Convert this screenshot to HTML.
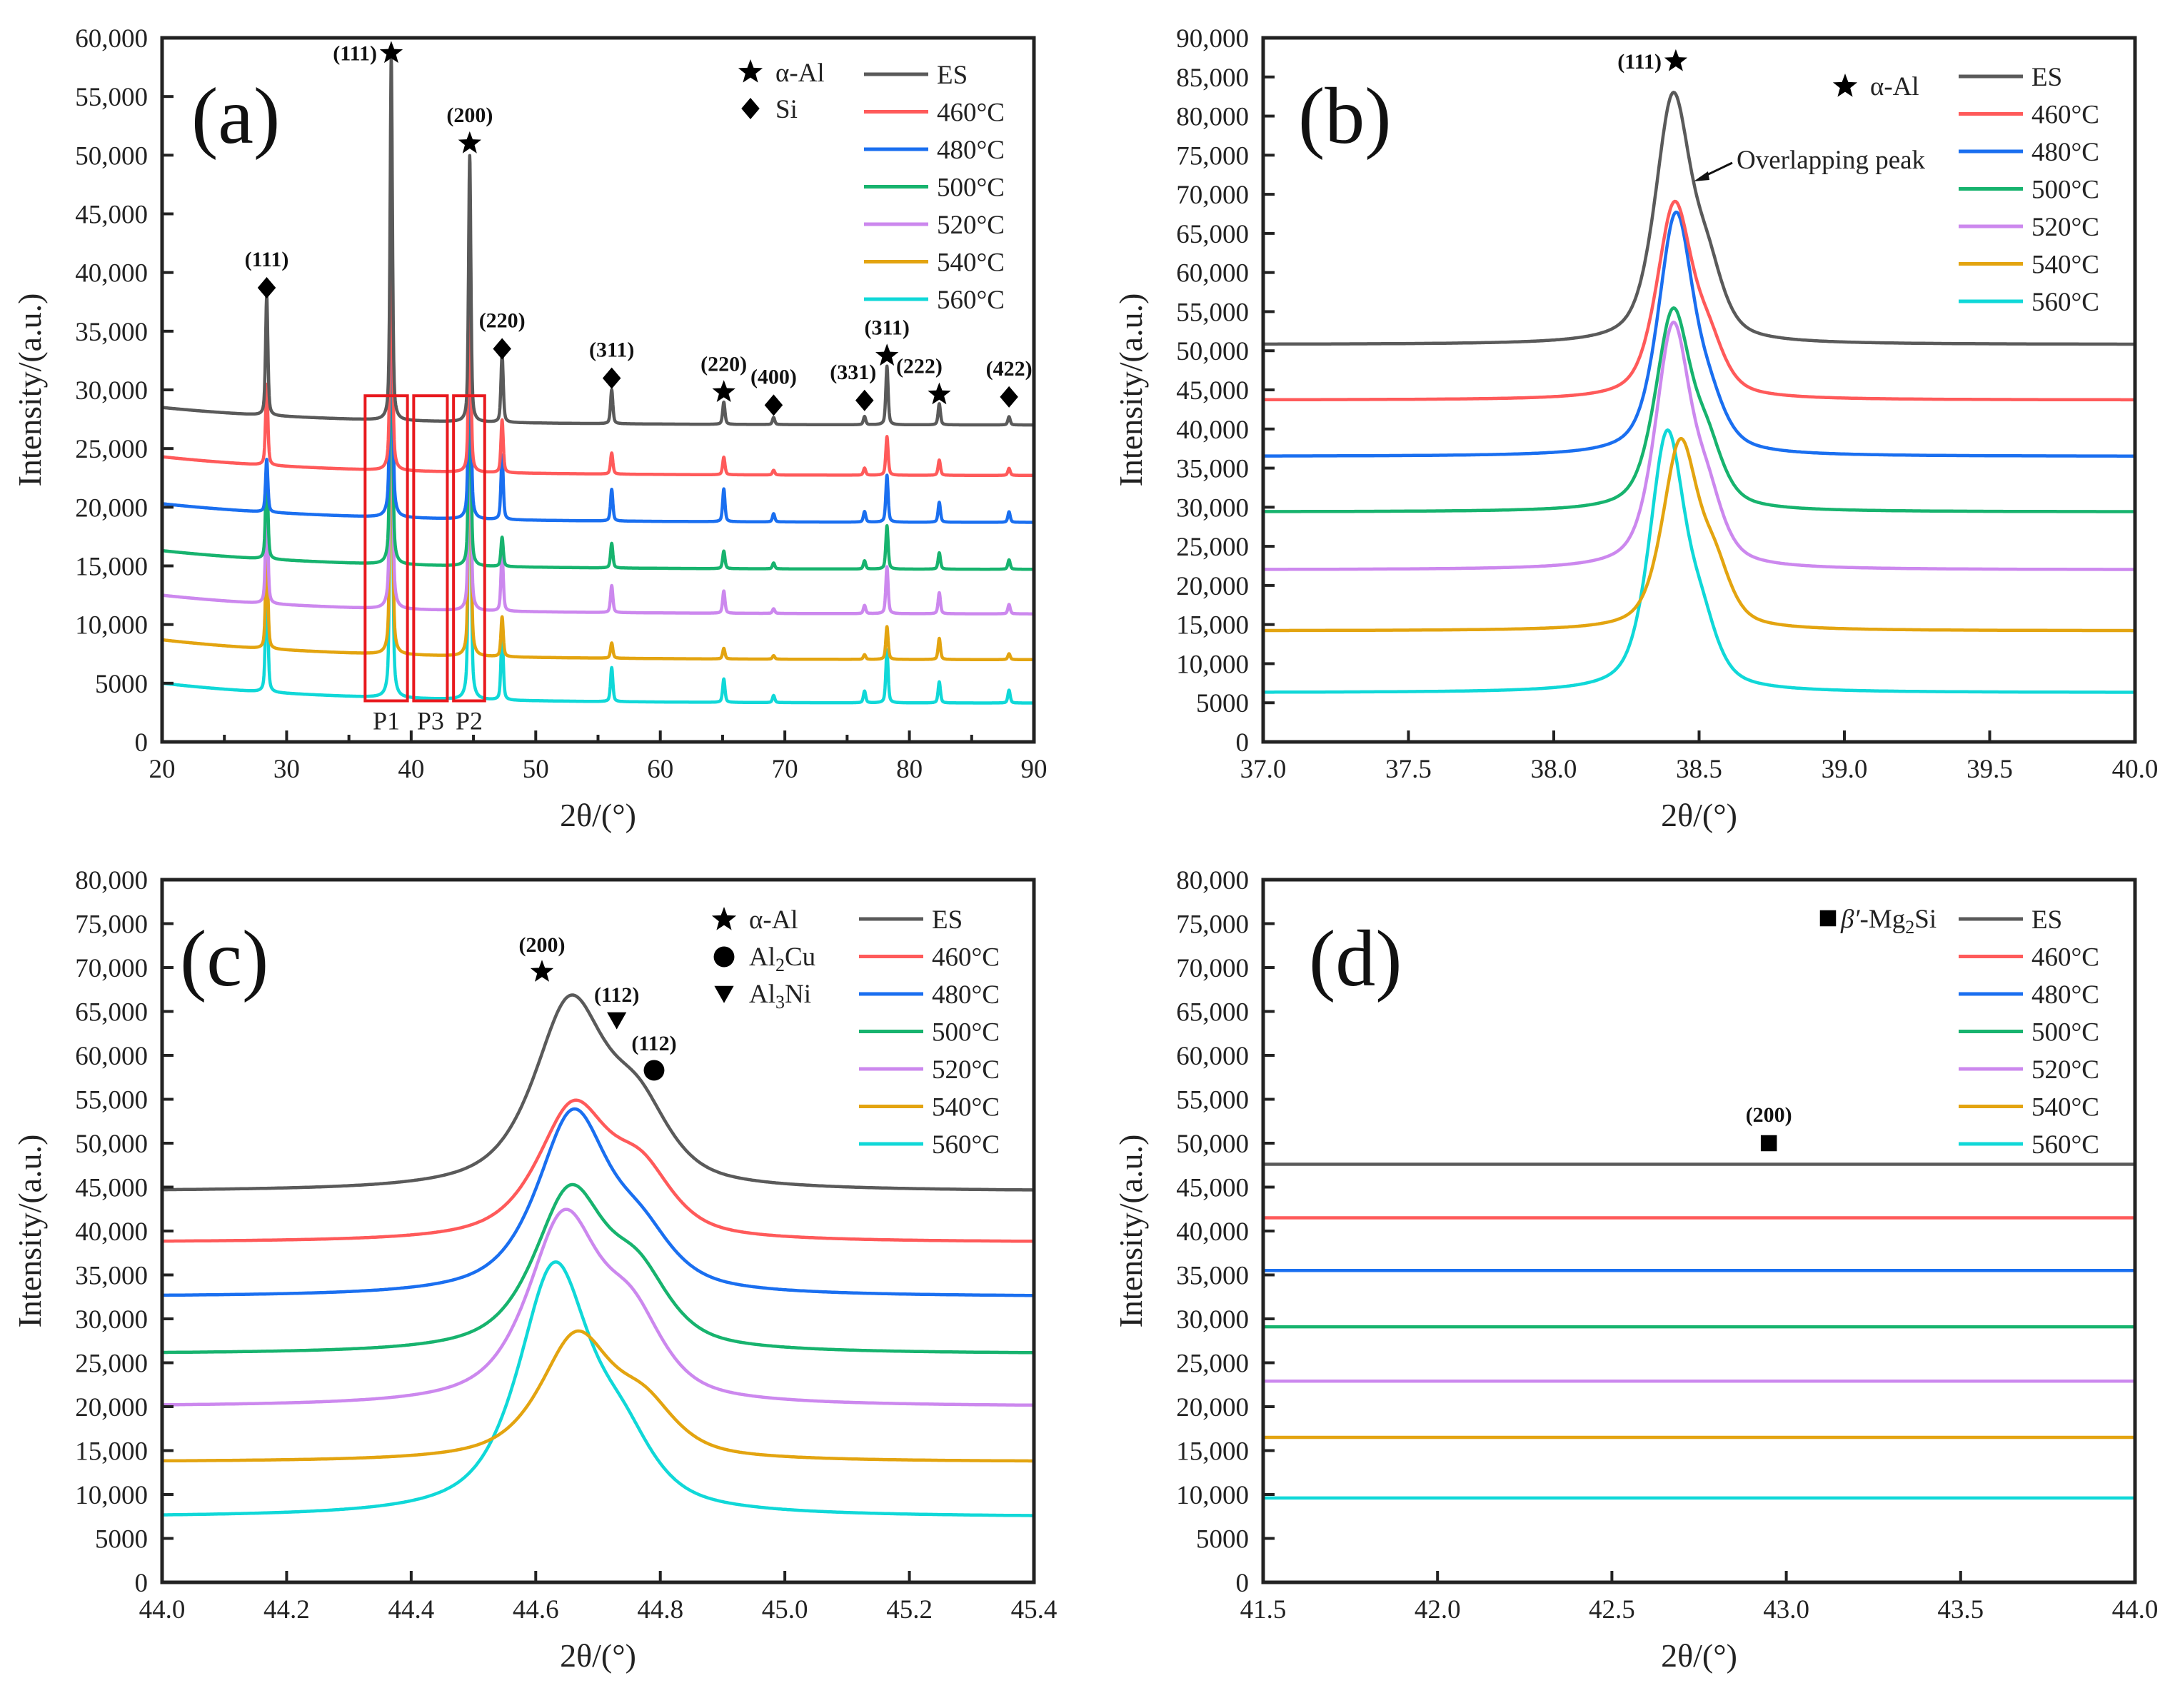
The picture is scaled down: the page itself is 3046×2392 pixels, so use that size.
<!DOCTYPE html>
<html><head><meta charset="utf-8">
<style>
html,body{margin:0;padding:0;background:#fff;}
svg{display:block;font-family:"Liberation Serif",serif;}
</style></head>
<body>
<svg id="fig" xmlns="http://www.w3.org/2000/svg" width="3046" height="2392" viewBox="0 0 3046 2392">
<rect x="0" y="0" width="3046" height="2392" fill="#fff"/>
</svg>
<script>
// ---------- shared data ----------
const seriesNames = ["ES","460°C","480°C","500°C","520°C","540°C","560°C"];
const seriesColors = ["#5a5a5a","#ff5a5a","#1a6ff0","#17b36e","#cc88ee","#e3a410","#10d8d8"];

// ---------- panel (a) ----------
const aPeakPos = [28.4,38.4,44.7,47.3,56.1,65.1,69.1,76.4,78.2,82.4,88.0];
const aBase20 = [28500,24300,20300,16300,12500,8700,5000];
const aBase90 = [27000,22700,18700,14700,10900,7000,3300];
const aAmp = [
 [10200,31000,22700,5800,2900,1900,600,700,5000,1800,700],
 [6900,25000,17000,4500,1800,1500,400,600,3300,1300,600],
 [4500,32000,22500,5500,2700,2800,700,900,4000,1700,900],
 [8000,30000,20000,2500,2100,1500,500,700,3700,1400,800],
 [9500,33000,23000,5000,2300,1900,400,700,4000,1800,800],
 [9000,32000,27000,3400,1300,900,300,400,2800,1800,500],
 [11000,37000,33000,5800,2900,2000,600,1000,4500,1800,1100]
];
const aYTicks = [0,5000,10000,15000,20000,25000,30000,35000,40000,45000,50000,55000,60000];
const aXTicks = [20,30,40,50,60,70,80,90];
const aMarkType = ["d","s","s","d","d","s","d","d","s","s","d"];
const aMarkLabel = ["(111)","(111)","(200)","(220)","(311)","(220)","(400)","(331)","(311)","(222)","(422)"];
const aMarkX = [28.4,38.4,44.7,47.3,56.1,65.1,69.1,76.4,78.2,82.4,88.0];
const aMarkY = [38700,58700,51000,33500,31000,29800,28700,29100,32900,29600,29400];
const aBoxX0 = [36.3,40.2,43.4];
const aBoxX1 = [39.7,42.9,45.9];
const aBoxLabels = ["P1","P3","P2"];
const aBoxY0 = 3500, aBoxY1 = 29500;

// ---------- panel (b) ----------
const bBase = [50800,43700,36500,29400,22000,14200,6300];
const bC1 = [38.41,38.415,38.42,38.41,38.41,38.435,38.39];
const bA1 = [31000,24500,30500,25000,30500,23500,32500];
const bA2 = [7500,5500,4500,6500,7000,6500,6500];
const bYTicks = [0,5000,10000,15000,20000,25000,30000,35000,40000,45000,50000,55000,60000,65000,70000,75000,80000,85000,90000];
const bXTicks = [37.0,37.5,38.0,38.5,39.0,39.5,40.0];

// ---------- panel (c) ----------
const cBase = [44500,38700,32500,26000,20000,13700,7400];
const cC1 = [44.655,44.66,44.66,44.655,44.645,44.665,44.63];
const cA1 = [21000,15000,20500,18000,21000,14000,28000];
const cA2 = [7500,6500,5000,7000,8000,5000,6000];
const cYTicks = [0,5000,10000,15000,20000,25000,30000,35000,40000,45000,50000,55000,60000,65000,70000,75000,80000];
const cXTicks = [44.0,44.2,44.4,44.6,44.8,45.0,45.2,45.4];

// ---------- panel (d) ----------
const dBase = [47600,41500,35500,29100,22900,16500,9600];
const dYTicks = cYTicks;
const dXTicks = [41.5,42.0,42.5,43.0,43.5,44.0];

const NS = "http://www.w3.org/2000/svg";
const svg = document.getElementById("fig");
function mk(tag, attrs, parent){
  const e = document.createElementNS(NS, tag);
  for (const k in attrs) e.setAttribute(k, attrs[k]);
  (parent||svg).appendChild(e);
  return e;
}
function fmt(v){ return v>=10000 ? v.toLocaleString("en-US") : String(v); }
function pv(dx, w, eta){
  const L = 1/(1+Math.pow(2*dx/w,2));
  const G = Math.exp(-4*Math.LN2*dx*dx/(w*w));
  return eta*L+(1-eta)*G;
}
function makeAxis(P){
  const sx = v => P.x0 + (v-P.xmin)/(P.xmax-P.xmin)*(P.x1-P.x0);
  const sy = v => P.y1 - (v-P.ymin)/(P.ymax-P.ymin)*(P.y1-P.y0);
  return {sx, sy};
}
function drawFrame(P, g, ax, yTicks, xTicks, xDec, minor){
  yTicks.forEach(t=>{
    const y = ax.sy(t);
    const tk = mk("line",{x1:P.x0,x2:P.x0+16,y1:y,y2:y,stroke:"#222","stroke-width":4},g);
    
    
    const lb = mk("text",{x:P.x0-20,y:y+13,"text-anchor":"end","font-size":37,fill:"#222"},g);
    
    
    lb.textContent = fmt(t);
  });
  xTicks.forEach(t=>{
    const x = ax.sx(t);
    const tk = mk("line",{x1:x,x2:x,y1:P.y1,y2:P.y1-16,stroke:"#222","stroke-width":4},g);
    
    
    const lb = mk("text",{x:x,y:P.y1+50,"text-anchor":"middle","font-size":37,fill:"#222"},g);
    
    
    lb.textContent = t.toFixed(xDec);
  });
  (minor||[]).forEach(t=>{
    const x = ax.sx(t);
    const tk = mk("line",{x1:x,x2:x,y1:P.y1,y2:P.y1-10,stroke:"#222","stroke-width":4},g);
    
    
  });
  const fr = mk("rect",{x:P.x0,y:P.y0,width:P.x1-P.x0,height:P.y1-P.y0,fill:"none",stroke:"#222","stroke-width":5},g);
  
  
  const xt = mk("text",{x:(P.x0+P.x1)/2,y:P.y1+118,"text-anchor":"middle","font-size":46,fill:"#222"},g);
  
  
  xt.textContent = "2θ/(°)";
  const yx = P.x0-170, yy=(P.y0+P.y1)/2;
  const yt = mk("text",{x:yx,y:yy,"text-anchor":"middle","font-size":46,fill:"#222",transform:`rotate(-90 ${yx} ${yy})`},g);
  
  
  yt.textContent = "Intensity/(a.u.)";
  const pl = mk("text",{x:P.lx,y:P.ly,"font-size":112,fill:"#111"},g);
  
  
  pl.textContent = P.label;
}
function drawLegend(g, x0, y0){
  seriesNames.forEach((n,i)=>{
    const y = y0 + i*52.5;
    const ln = mk("line",{x1:x0,x2:x0+90,y1:y,y2:y,stroke:seriesColors[i],"stroke-width":5},g);
    
    
    const t = mk("text",{x:x0+102,y:y+13,"font-size":37,fill:"#222"},g);
    
    
    t.textContent = n;
  });
}
function marker(g, type, x, y, s){
  let e;
  if (type==="s"){
    let pts=[];
    for(let k=0;k<10;k++){const r=k%2?s*0.42:s; const a=-Math.PI/2+k*Math.PI/5; pts.push((x+r*Math.cos(a)).toFixed(1)+","+(y+r*Math.sin(a)).toFixed(1));}
    e = mk("polygon",{points:pts.join(" "),fill:"#000"},g);
    
  } else if (type==="d"){
    e = mk("polygon",{points:`${x},${y-s} ${x+s*0.85},${y} ${x},${y+s} ${x-s*0.85},${y}`,fill:"#000"},g);
    
  } else if (type==="c"){
    e = mk("circle",{cx:x,cy:y,r:s*0.85,fill:"#000"},g);
    
  } else if (type==="t"){
    e = mk("polygon",{points:`${x-s*0.85},${y-s*0.7} ${x+s*0.85},${y-s*0.7} ${x},${y+s*0.8}`,fill:"#000"},g);
    
  } else {
    e = mk("rect",{x:x-s*0.75,y:y-s*0.75,width:s*1.5,height:s*1.5,fill:"#000"},g);
    
  }
  
}
function annot(g, txt, x, y, anchor){
  const t = mk("text",{x:x,y:y,"text-anchor":anchor||"middle","font-size":30,"font-weight":"bold",fill:"#111"},g);
  
  
  t.textContent = txt;
}
function drawCurve(g, ax, xs, fn, color){
  let d="";
  xs.forEach((x,k)=>{ d += (k?"L":"M")+ax.sx(x).toFixed(1)+","+ax.sy(fn(x)).toFixed(1); });
  const p = mk("path",{d:d,fill:"none",stroke:color,"stroke-width":4.5,"stroke-linejoin":"round"},g);
  return p;
}
function range(a,b,st){ const r=[]; for(let x=a;x<=b+1e-9;x+=st) r.push(x); return r; }

// ===== panel a =====
(function(){
  const P={x0:227,x1:1448,y0:53,y1:1039,xmin:20,xmax:90,ymin:0,ymax:60000,label:"(a)",lx:268,ly:200};
  const g = mk("g",{});  
  const ax = makeAxis(P);
  const xs = range(20,90,0.02);
  for(let i=seriesNames.length-1;i>=0;i--){
    const p = drawCurve(g, ax, xs, x=>{
      let y = aBase90[i] + (aBase20[i]-aBase90[i])*Math.exp(-(x-20)/14);
      aPeakPos.forEach((c,k)=>{ y += aAmp[i][k]*pv(x-c,0.22,0.5); });
      return y;
    }, seriesColors[i]);
    
    
  }
  aBoxX0.forEach((x0,k)=>{
    const r = mk("rect",{x:ax.sx(x0),y:ax.sy(aBoxY1),width:ax.sx(aBoxX1[k])-ax.sx(x0),height:ax.sy(aBoxY0)-ax.sy(aBoxY1),fill:"none",stroke:"#e8191e","stroke-width":4},g);
    
    
    const t = mk("text",{x:(ax.sx(x0)+ax.sx(aBoxX1[k]))/2,y:ax.sy(aBoxY0)+40,"text-anchor":"middle","font-size":36,fill:"#222"},g);
    
    
    t.textContent = aBoxLabels[k];
  });
  aMarkX.forEach((x,k)=>{
    const px=ax.sx(x), py=ax.sy(aMarkY[k]);
    marker(g, aMarkType[k], px, py, aMarkType[k]==="s"?17:15);
    if (k===1) annot(g, aMarkLabel[k], px-20, py+10, "end");
    else annot(g, aMarkLabel[k], px+(k===9?-28:k===7?-16:0), py-30);
  });
  drawFrame(P,g,ax,aYTicks,aXTicks,0,[25,35,45,55,65,75,85]);
  marker(g,"s",1051,101,18);
  marker(g,"d",1051,152,15);
  const t1 = mk("text",{x:1086,y:114,"font-size":37,fill:"#222"},g);   t1.textContent="α-Al";
  const t2 = mk("text",{x:1086,y:165,"font-size":37,fill:"#222"},g);   t2.textContent="Si";
  drawLegend(g,1210,104);
})();

// ===== panel b =====
(function(){
  const P={x0:1769,x1:2990,y0:53,y1:1039,xmin:37,xmax:40,ymin:0,ymax:90000,label:"(b)",lx:1818,ly:200};
  const g = mk("g",{});  
  const ax = makeAxis(P);
  const xs = range(37,40,0.004);
  for(let i=seriesNames.length-1;i>=0;i--){
    const p = drawCurve(g, ax, xs, x=> bBase[i] + bA1[i]*pv(x-bC1[i],0.145,0.55) + bA2[i]*pv(x-(bC1[i]+0.12),0.13,0.5), seriesColors[i]);
    
    
  }
  marker(g,"s",ax.sx(38.42),ax.sy(87000),17);
  annot(g,"(111)",ax.sx(38.42)-20,ax.sy(87000)+10,"end");
  const ar = mk("line",{x1:2426,y1:228,x2:2380,y2:250,stroke:"#111","stroke-width":3},g);
   
  const ah = mk("polygon",{points:"2372,254 2392,240 2394,252",fill:"#111"},g);
   
  const ot = mk("text",{x:2432,y:236,"font-size":37,fill:"#222"},g);
   
  ot.textContent="Overlapping peak";
  drawFrame(P,g,ax,bYTicks,bXTicks,1,[]);
  marker(g,"s",2584,121,18);
  const t1 = mk("text",{x:2619,y:133,"font-size":37,fill:"#222"},g);   t1.textContent="α-Al";
  drawLegend(g,2743,107);
})();

// ===== panel c =====
(function(){
  const P={x0:227,x1:1448,y0:1232,y1:2216,xmin:44,xmax:45.4,ymin:0,ymax:80000,label:"(c)",lx:252,ly:1380};
  const g = mk("g",{});  
  const ax = makeAxis(P);
  const xs = range(44,45.4,0.002);
  for(let i=seriesNames.length-1;i>=0;i--){
    const p = drawCurve(g, ax, xs, x=> cBase[i] + cA1[i]*pv(x-cC1[i],0.14,0.75) + cA2[i]*pv(x-(cC1[i]+0.11),0.12,0.6), seriesColors[i]);
    
    
  }
  marker(g,"s",ax.sx(44.61),ax.sy(69500),17); annot(g,"(200)",ax.sx(44.61),ax.sy(69500)-28);
  marker(g,"t",ax.sx(44.73),ax.sy(64000),16); annot(g,"(112)",ax.sx(44.73),ax.sy(64000)-26);
  marker(g,"c",ax.sx(44.79),ax.sy(58300),17); annot(g,"(112)",ax.sx(44.79),ax.sy(58300)-28);
  drawFrame(P,g,ax,cYTicks,cXTicks,1,[]);
  marker(g,"s",1014,1288,18); marker(g,"c",1014,1340,17); marker(g,"t",1014,1392,16);
  const t1 = mk("text",{x:1049,y:1300,"font-size":37,fill:"#222"},g);   t1.textContent="α-Al";
  const t2 = mk("text",{x:1049,y:1352,"font-size":37,fill:"#222"},g);  
  t2.innerHTML='Al<tspan font-size="26" dy="8">2</tspan><tspan dy="-8">Cu</tspan>';
  const t3 = mk("text",{x:1049,y:1404,"font-size":37,fill:"#222"},g);  
  t3.innerHTML='Al<tspan font-size="26" dy="8">3</tspan><tspan dy="-8">Ni</tspan>';
  drawLegend(g,1203,1287);
})();

// ===== panel d =====
(function(){
  const P={x0:1769,x1:2990,y0:1232,y1:2216,xmin:41.5,xmax:44,ymin:0,ymax:80000,label:"(d)",lx:1833,ly:1380};
  const g = mk("g",{});  
  const ax = makeAxis(P);
  const xs = [41.5,44];
  for(let i=seriesNames.length-1;i>=0;i--){
    const p = drawCurve(g, ax, xs, x=> dBase[i], seriesColors[i]);
    
    
  }
  marker(g,"q",ax.sx(42.95),ax.sy(50000),15); annot(g,"(200)",ax.sx(42.95),ax.sy(50000)-30);
  drawFrame(P,g,ax,dYTicks,dXTicks,1,[]);
  marker(g,"q",2560,1286,15);
  const t1 = mk("text",{x:2578,y:1299,"font-size":37,fill:"#222"},g);  
  t1.innerHTML='<tspan font-style="italic">β′</tspan>-Mg<tspan font-size="26" dy="8">2</tspan><tspan dy="-8">Si</tspan>';
  drawLegend(g,2743,1287);
})();
</script>
</body></html>
